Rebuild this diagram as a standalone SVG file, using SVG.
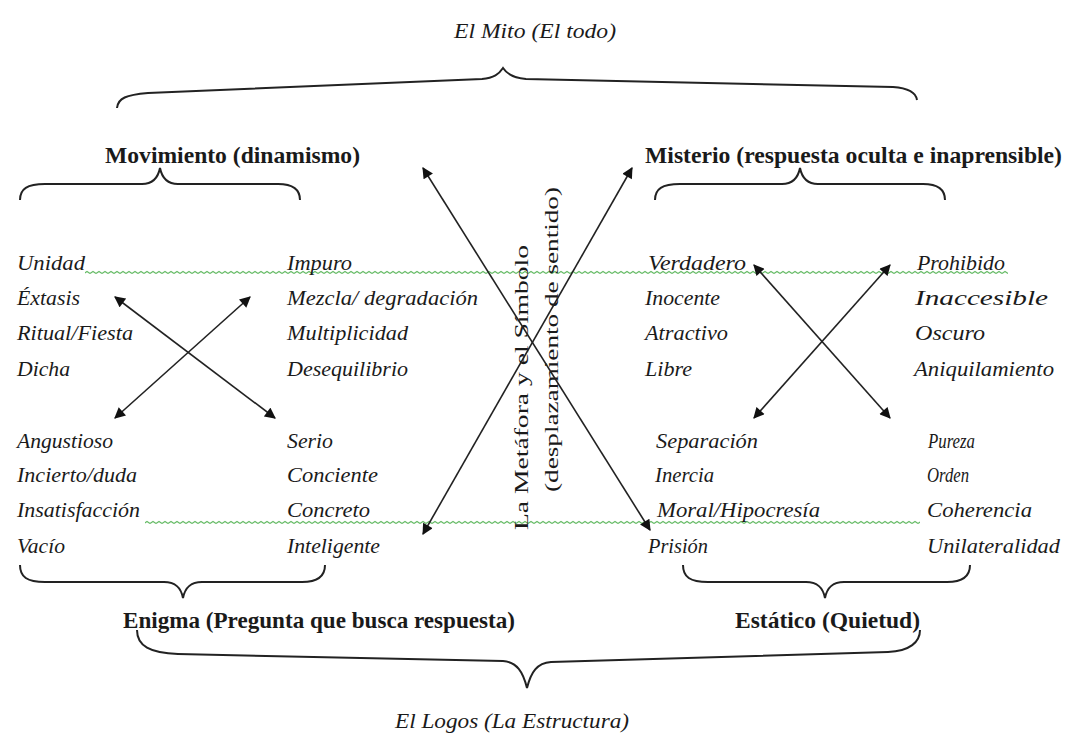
<svg xmlns="http://www.w3.org/2000/svg" width="1074" height="743" viewBox="0 0 1074 743">
<style>
text{font-family:"Liberation Serif","Times New Roman",serif;fill:#1a1a1a}
.it{font-style:italic;font-size:22px}
.hd{font-weight:bold;font-size:24px}
.tt{font-style:italic;font-size:22px}
.vt{font-size:19px}
.br{fill:none;stroke:#222;stroke-width:2}
.ar{stroke:#222;stroke-width:1.6;fill:none;marker-start:url(#ah);marker-end:url(#ah)}
</style>
<defs>
<marker id="ah" viewBox="0 0 10 10" refX="9" refY="5" markerWidth="12" markerHeight="11" markerUnits="userSpaceOnUse" orient="auto-start-reverse"><path d="M0,0 L10,5 L0,10 z" fill="#111"/></marker>
<pattern id="wave" width="6" height="5" patternUnits="userSpaceOnUse"><path d="M0,3.5 L3,1.5 L6,3.5" stroke="#66bb66" stroke-width="1.2" fill="none"/></pattern>
</defs>
<rect width="1074" height="743" fill="#fff"/>

<g id="mito"><text class="tt" x="535" y="38" text-anchor="middle" textLength="162" lengthAdjust="spacingAndGlyphs">El Mito (El todo)</text></g>
<g id="brace-top"><path class="br" d="M117,108 C118,98 126,95 148,93 L482,79 C494,78 499,74 503,68 C507,74 513,78 526,79 L893,87 C908,88 916,93 917,100"/></g>

<g id="movimiento"><text class="hd" x="105" y="163" textLength="255" lengthAdjust="spacingAndGlyphs">Movimiento (dinamismo)</text>
<path class="br" d="M20,200 C20,189 27,184 45,184 L142,184 C153,184 158,178 160,168 C162,178 167,184 178,184 L278,184 C294,184 300,190 300,200"/></g>

<g id="misterio"><text class="hd" x="645" y="163" textLength="417" lengthAdjust="spacingAndGlyphs">Misterio  (respuesta oculta e inaprensible)</text>
<path class="br" d="M655,200 C655,189 662,184 680,184 L782,184 C793,184 798,178 800,168 C802,178 807,184 818,184 L923,184 C939,184 945,190 945,200"/></g>

<g id="waves">
<rect x="85" y="270" width="923" height="5" fill="url(#wave)"/>
<rect x="145" y="519" width="775" height="5" fill="url(#wave)"/>
</g>

<g id="col-tl">
<text class="it" x="17" y="270" textLength="68" lengthAdjust="spacingAndGlyphs">Unidad</text>
<text class="it" x="17" y="305" textLength="63" lengthAdjust="spacingAndGlyphs">Éxtasis</text>
<text class="it" x="17" y="340" textLength="116" lengthAdjust="spacingAndGlyphs">Ritual/Fiesta</text>
<text class="it" x="17" y="376" textLength="53" lengthAdjust="spacingAndGlyphs">Dicha</text>
</g>
<g id="col-tm">
<text class="it" x="287" y="270" textLength="65" lengthAdjust="spacingAndGlyphs">Impuro</text>
<text class="it" x="287" y="305" textLength="191" lengthAdjust="spacingAndGlyphs">Mezcla/ degradación</text>
<text class="it" x="287" y="340" textLength="121" lengthAdjust="spacingAndGlyphs">Multiplicidad</text>
<text class="it" x="287" y="376" textLength="121" lengthAdjust="spacingAndGlyphs">Desequilibrio</text>
</g>
<g id="col-bl">
<text class="it" x="17" y="448" textLength="96" lengthAdjust="spacingAndGlyphs">Angustioso</text>
<text class="it" x="17" y="482" textLength="120" lengthAdjust="spacingAndGlyphs">Incierto/duda</text>
<text class="it" x="17" y="517" textLength="123" lengthAdjust="spacingAndGlyphs">Insatisfacción</text>
<text class="it" x="17" y="553" textLength="48" lengthAdjust="spacingAndGlyphs">Vacío</text>
</g>
<g id="col-bm">
<text class="it" x="287" y="448" textLength="46" lengthAdjust="spacingAndGlyphs">Serio</text>
<text class="it" x="287" y="482" textLength="91" lengthAdjust="spacingAndGlyphs">Conciente</text>
<text class="it" x="287" y="517" textLength="83" lengthAdjust="spacingAndGlyphs">Concreto</text>
<text class="it" x="287" y="553" textLength="93" lengthAdjust="spacingAndGlyphs">Inteligente</text>
</g>
<g id="col-tr1">
<text class="it" x="648" y="270" textLength="98" lengthAdjust="spacingAndGlyphs">Verdadero</text>
<text class="it" x="645" y="305" textLength="75" lengthAdjust="spacingAndGlyphs">Inocente</text>
<text class="it" x="645" y="340" textLength="83" lengthAdjust="spacingAndGlyphs">Atractivo</text>
<text class="it" x="645" y="376" textLength="47" lengthAdjust="spacingAndGlyphs">Libre</text>
</g>
<g id="col-tr2">
<text class="it" x="917" y="270" textLength="88" lengthAdjust="spacingAndGlyphs">Prohibido</text>
<text class="it" x="915" y="305" textLength="133" lengthAdjust="spacingAndGlyphs">Inaccesible</text>
<text class="it" x="915" y="340" textLength="70" lengthAdjust="spacingAndGlyphs">Oscuro</text>
<text class="it" x="914" y="376" textLength="140" lengthAdjust="spacingAndGlyphs">Aniquilamiento</text>
</g>
<g id="col-br1">
<text class="it" x="656" y="448" textLength="102" lengthAdjust="spacingAndGlyphs">Separación</text>
<text class="it" x="655" y="482" textLength="59" lengthAdjust="spacingAndGlyphs">Inercia</text>
<text class="it" x="657" y="517" textLength="163" lengthAdjust="spacingAndGlyphs">Moral/Hipocresía</text>
<text class="it" x="648" y="553" textLength="60" lengthAdjust="spacingAndGlyphs">Prisión</text>
</g>
<g id="col-br2">
<text class="it" x="928" y="448" textLength="47" lengthAdjust="spacingAndGlyphs">Pureza</text>
<text class="it" x="927" y="482" textLength="42" lengthAdjust="spacingAndGlyphs">Orden</text>
<text class="it" x="927" y="517" textLength="105" lengthAdjust="spacingAndGlyphs">Coherencia</text>
<text class="it" x="927" y="553" textLength="133" lengthAdjust="spacingAndGlyphs">Unilateralidad</text>
</g>

<g id="metafora">
<text class="vt" transform="translate(528,530) rotate(-90)" textLength="285" lengthAdjust="spacingAndGlyphs">La Metáfora y el Símbolo</text>
<text class="vt" transform="translate(558,492) rotate(-90)" textLength="305" lengthAdjust="spacingAndGlyphs">(desplazamiento de sentido)</text>
</g>

<g id="connectors">
<line class="ar" x1="115" y1="297" x2="275" y2="418"/>
<line class="ar" x1="250" y1="297" x2="115" y2="418"/>
<line class="ar" x1="754" y1="265" x2="890" y2="418"/>
<line class="ar" x1="890" y1="265" x2="754" y2="418"/>
<line class="ar" x1="423" y1="168" x2="650" y2="530"/>
<line class="ar" x1="632" y1="168" x2="423" y2="534"/>
</g>

<g id="enigma"><path class="br" d="M20,565 C20,577 27,582 45,582 L164,582 C176,582 181,588 183,598 C185,588 190,582 202,582 L302,582 C318,582 325,576 325,565"/>
<text class="hd" x="123" y="628" textLength="392" lengthAdjust="spacingAndGlyphs">Enigma (Pregunta que busca respuesta)</text></g>

<g id="estatico"><path class="br" d="M683,565 C683,577 690,582 708,582 L806,582 C818,582 823,588 825,598 C827,588 832,582 844,582 L947,582 C963,582 970,576 970,565"/>
<text class="hd" x="735" y="628" textLength="185" lengthAdjust="spacingAndGlyphs">Estático (Quietud)</text></g>

<g id="brace-bottom"><path class="br" d="M137,630 C137,646 150,653 178,654 L503,661 C517,662 523,672 527,688 C531,672 537,663 551,662 L888,652 C910,651 920,642 920,630"/></g>
<g id="logos"><text class="tt" x="512" y="728" text-anchor="middle" textLength="234" lengthAdjust="spacingAndGlyphs">El Logos (La Estructura)</text></g>
</svg>
